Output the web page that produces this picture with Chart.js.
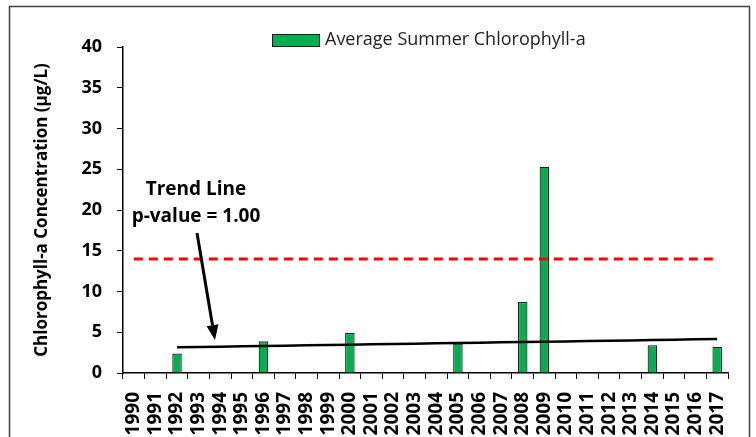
<!DOCTYPE html>
<html>
<head>
<meta charset="utf-8">
<script src="https://cdn.jsdelivr.net/npm/chart.js@4.4.1/dist/chart.umd.min.js"></script>
<style>
  html, body { margin: 0; padding: 0; background: #fff; }
  #wrap { width: 756px; height: 437px; }
</style>
</head>
<body>
<div id="wrap"><canvas id="myChart" width="756" height="437"></canvas></div>
<script>
const years = ['1990','1991','1992','1993','1994','1995','1996','1997','1998','1999','2000','2001','2002','2003','2004','2005','2006','2007','2008','2009','2010','2011','2012','2013','2014','2015','2016','2017'];
const chlValues = [null,null,2.4,null,null,null,3.9,null,null,null,4.9,null,null,null,null,3.6,null,null,8.7,25.3,null,null,null,null,3.4,null,null,3.2];
const trendValues = [null,null,3.15,3.19,3.23,3.27,3.31,3.35,3.39,3.43,3.47,3.52,3.56,3.60,3.64,3.68,3.72,3.76,3.80,3.84,3.88,3.92,3.96,4.00,4.05,4.09,4.13,4.17];
const thresholdValues = [14,14,14,14,14,14,14,14,14,14,14,14,14,14,14,14,14,14,14,14,14,14,14,14,14,14,14,14];
const yTicks = [0,5,10,15,20,25,30,35,40];

const FONT = "'Open Sans', sans-serif";
const green = '#00B050';

// legend, annotation text + arrow, outer frame
const extras = {
  id: 'extras',
  afterDraw(chart) {
    const ctx = chart.ctx;
    ctx.save();
    // legend
    ctx.fillStyle = green;
    ctx.fillRect(272, 34, 48, 12);
    ctx.strokeStyle = '#1f1f1f';
    ctx.lineWidth = 1;
    ctx.strokeRect(272.5, 34.5, 47, 12);
    ctx.fillStyle = '#222';
    ctx.font = "18px " + FONT;
    ctx.textBaseline = 'middle';
    ctx.textAlign = 'left';
    ctx.fillText(chart.data.datasets[0].label, 325, 40);

    // annotation
    ctx.font = "bold 19px " + FONT;
    ctx.textAlign = 'center';
    ctx.textBaseline = 'alphabetic';
    ctx.fillStyle = '#000';
    ctx.fillText('Trend Line', 196, 195);
    ctx.fillText('p-value = 1.00', 196, 222);

    // arrow
    const x0 = 197, y0 = 233, x1 = 215, y1 = 340;
    const ang = Math.atan2(y1 - y0, x1 - x0);
    const hl = 15, hw = 6;
    const bx = x1 - hl * Math.cos(ang), by = y1 - hl * Math.sin(ang);
    ctx.strokeStyle = '#000';
    ctx.lineWidth = 3;
    ctx.beginPath();
    ctx.moveTo(x0, y0);
    ctx.lineTo(bx, by);
    ctx.stroke();
    ctx.beginPath();
    ctx.moveTo(x1, y1);
    ctx.lineTo(bx + hw * Math.sin(ang), by - hw * Math.cos(ang));
    ctx.lineTo(bx - hw * Math.sin(ang), by + hw * Math.cos(ang));
    ctx.closePath();
    ctx.fillStyle = '#000';
    ctx.fill();

    // frame
    ctx.strokeStyle = '#404040';
    ctx.lineWidth = 1.5;
    ctx.strokeRect(9.5, 6.5, 740, 440);
    ctx.restore();
  }
};

new Chart(document.getElementById('myChart'), {
  type: 'bar',
  data: {
    labels: years,
    datasets: [{
      label: 'Average Summer Chlorophyll-a',
      data: chlValues,
      backgroundColor: green,
      borderColor: '#1f1f1f',
      borderWidth: 1.2,
      barPercentage: 0.44,
      categoryPercentage: 1,
      order: 3
    }, {
      type: 'line',
      label: 'Trend',
      data: trendValues,
      borderColor: '#000',
      borderWidth: 2.5,
      pointRadius: 0,
      spanGaps: false,
      order: 2
    }, {
      type: 'line',
      label: 'Threshold',
      data: thresholdValues,
      borderColor: '#FF0000',
      borderWidth: 3,
      borderDash: [9, 6],
      pointRadius: 0,
      order: 1
    }]
  },
  options: {
    responsive: false,
    animation: false,
    layout: { padding: { left: 9, top: 47, right: 28, bottom: 0 } },
    plugins: {
      legend: { display: false },
      tooltip: { enabled: false }
    },
    scales: {
      x: {
        offset: true,
        grid: { display: true, drawOnChartArea: false, drawTicks: true, tickLength: 6, color: '#000', offset: true },
        border: { color: '#000', width: 1.5 },
        ticks: {
          color: '#000',
          font: { family: FONT, size: 19, weight: 'bold' },
          minRotation: 90, maxRotation: 90,
          autoSkip: false,
          padding: 13
        },
        afterFit(s) { s.height = 64; }
      },
      y: {
        min: 0, max: 40,
        afterBuildTicks(s) { s.ticks = yTicks.map(v => ({ value: v })); },
        grid: { display: true, drawOnChartArea: false, drawTicks: true, tickLength: 6, color: '#000' },
        border: { color: '#000', width: 1.5 },
        ticks: {
          color: '#000',
          font: { family: FONT, size: 18, weight: 'bold' },
          padding: 15
        },
        title: {
          display: true,
          text: 'Chlorophyll-a Concentration (µg/L)',
          color: '#000',
          font: { family: FONT, size: 17, weight: 'bold' },
          padding: { top: 23, bottom: 0 }
        },
        afterFit(s) { s.width = 114; }
      }
    }
  },
  plugins: [extras]
});
</script>
</body>
</html>
